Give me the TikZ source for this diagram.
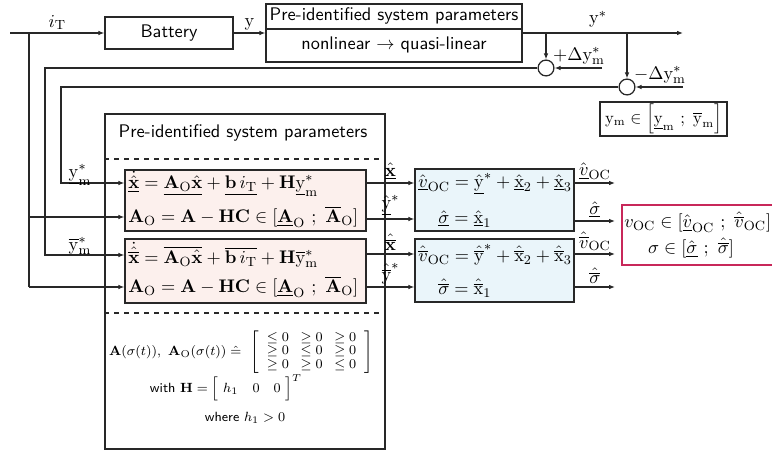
\documentclass[tikz,border=0pt,11pt]{standalone}
\usepackage{amsmath,amssymb}
\usetikzlibrary{arrows.meta,calc}
\definecolor{pinkfill}{RGB}{252,240,237}
\definecolor{bluefill}{RGB}{234,245,250}
\definecolor{redline}{RGB}{200,40,90}
\definecolor{linec}{RGB}{40,40,40}
\begin{document}
\begin{tikzpicture}[x=0.6pt,y=-0.6pt, line width=0.75pt, draw=linec,
  >={Latex[length=3.6pt,width=2.8pt]},
  box/.style={draw=linec, rectangle, inner sep=0pt},
  sumnode/.style={draw=linec, circle, minimum size=9.5pt, inner sep=0pt},
  eqn/.style={anchor=west, inner sep=1pt},
  lbl/.style={inner sep=1.5pt},
  smalltxt/.style={font=\fontsize{8}{9.5}\selectfont}]
\useasboundingbox (0,0) rectangle (772,451);

% ---------- top row ----------
\node[box, minimum width=76.8pt, minimum height=19.2pt, font=\sffamily] (bat) at (169,33) {Battery};
\node[box, minimum width=153.6pt, minimum height=34.8pt] (pisp) at (394,33) {};
\coordinate (pd) at (0,29);
\draw (pisp.west |- pd) -- (pisp.east |- pd);
\node[font=\sffamily] (pt1) at (394,16) {Pre-identified system parameters};
\node[font=\sffamily] (pt2) at (394,45) {nonlinear $\rightarrow$ quasi-linear};

\coordinate (in) at (10,33);
\draw[->] (in) -- node[above, lbl]{$i_\mathrm{T}$} (bat.west);
\draw[->] (bat.east) -- node[above, lbl]{$\mathrm{y}$} (pisp.west |- bat.east);
\coordinate (yend) at (683,33);
\draw[->] (pisp.east |- yend) -- (yend);
\node[lbl] (ystar) at (598,19) {$\mathrm{y}^*$};

% ---------- summation points ----------
\coordinate (j1) at (546,33);
\coordinate (j2) at (627,33);
\node[sumnode] (c1) at (546,68) {};
\node[sumnode] (c2) at (627,87) {};
\draw[->] (j1) -- (c1.north);
\draw[->] (j2) -- (c2.north);
\coordinate (d1) at (602,68);
\coordinate (d2) at (683,87);
\draw[->] (d1) -- (c1.east);
\draw[->] (d2) -- (c2.east);
\node[lbl] (dp) at (579,56) {$+\Delta\mathrm{y}^*_\mathrm{m}$};
\node[lbl] (dm) at (660,75) {$-\Delta\mathrm{y}^*_\mathrm{m}$};

\node[box, minimum width=76.2pt, minimum height=20.4pt, font=\fontsize{10}{12}\selectfont] (ymb) at (663.5,119)
  {$\mathrm{y}_\mathrm{m}\in\Big[\underline{\mathrm{y}}_\mathrm{m}\ ;\ \overline{\mathrm{y}}_\mathrm{m}\Big]$};

% ---------- big block ----------
\node[box, minimum width=168pt, minimum height=201pt] (big) at (245,281.5) {};
\node[font=\sffamily] (bigt) at (243,133) {Pre-identified system parameters};
\coordinate (ds1) at (0,159);
\coordinate (ds2) at (0,313);
\draw[dashed] (big.west |- ds1) -- (big.east |- ds1);
\draw[dashed] (big.west |- ds2) -- (big.east |- ds2);

\node[box, fill=pinkfill, minimum width=144.6pt, minimum height=36.6pt] (p1) at (245.5,200.5) {};
\node[box, fill=pinkfill, minimum width=144.6pt, minimum height=38.4pt] (p2) at (245.5,271) {};

\node[eqn] (e11) at (126,184) {$\dot{\underline{\hat{\mathbf x}}} = \underline{\mathbf{A}_\mathrm{O}\hat{\mathbf x}} + \underline{\mathbf{b}\, i_\mathrm{T}} + \mathbf{H}\underline{\mathrm{y}}^*_\mathrm{m}$};
\node[eqn] (e12) at (126,217) {$\mathbf{A}_\mathrm{O} = \mathbf{A} - \mathbf{HC} \in [\underline{\mathbf{A}}_\mathrm{O}\ ;\ \overline{\mathbf{A}}_\mathrm{O}]$};
\node[eqn] (e21) at (126,255) {$\dot{\hat{\overline{\mathbf x}}} = \overline{\mathbf{A}_\mathrm{O}\hat{\mathbf x}} + \overline{\mathbf{b}\, i_\mathrm{T}} + \mathbf{H}\overline{\mathrm{y}}^*_\mathrm{m}$};
\node[eqn] (e22) at (126,287) {$\mathbf{A}_\mathrm{O} = \mathbf{A} - \mathbf{HC} \in [\underline{\mathbf{A}}_\mathrm{O}\ ;\ \overline{\mathbf{A}}_\mathrm{O}]$};

\node[font=\fontsize{8.5}{10}\selectfont] (mat) at (241,352) {$\mathbf{A}(\sigma(t)),\ \mathbf{A}_\mathrm{O}(\sigma(t)) \mathrel{\hat{=}}\ 
  \renewcommand{\arraystretch}{0.8}\setlength{\arraycolsep}{3.5pt}\left[\,\begin{array}{ccc}\le 0 & \ge 0 & \ge 0\\ \ge 0 & \le 0 & \ge 0\\ \ge 0 & \ge 0 & \le 0\end{array}\,\right]$};
\node[smalltxt] (withH) at (226,388) {\sffamily with $\mathbf{H}=\Big[\ h_1\ \ \ 0\ \ \ 0\ \Big]^T$};
\node[smalltxt] (where) at (245,418) {\sffamily where $h_1>0$};

% ---------- inputs on the left ----------
\coordinate (ya) at (61,183);
\coordinate (yb) at (45,255);
\draw[->] (c2.west) -| (ya) -- (p1.west |- ya);
\draw[->] (c1.west) -| (yb) -- (p2.west |- yb);
\node[lbl] (lya) at (80,175) {$\underline{\mathrm{y}}^*_\mathrm{m}$};
\node[lbl] (lyb) at (80,246) {$\overline{\mathrm{y}}^*_\mathrm{m}$};
\coordinate (ji) at (29,33);
\coordinate (ia) at (29,217);
\coordinate (ib) at (29,287);
\draw (ji) -- (ib);
\draw[->] (ia) -- (p1.west |- ia);
\draw[->] (ib) -- (p2.west |- ib);

% ---------- blue blocks ----------
\node[box, fill=bluefill, minimum width=95.4pt, minimum height=37.2pt] (b1) at (494.5,200) {};
\node[box, fill=bluefill, minimum width=95.4pt, minimum height=37.8pt] (b2) at (494.5,270.5) {};
\node[eqn] (f11) at (416,184) {$\hat{\underline{v}}_\mathrm{OC} = \underline{\hat{\mathrm y}}^* + \underline{\hat{\mathrm x}}_2 + \underline{\hat{\mathrm x}}_3$};
\node[eqn] (f12) at (436,219) {$\underline{\hat\sigma} = \underline{\hat{\mathrm x}}_1$};
\node[eqn] (f21) at (416,255) {$\hat{\overline{v}}_\mathrm{OC} = \hat{\overline{\mathrm y}}^* + \hat{\overline{\mathrm x}}_2 + \hat{\overline{\mathrm x}}_3$};
\node[eqn] (f22) at (436,288) {$\hat{\overline{\sigma}} = \hat{\overline{\mathrm x}}_1$};

\coordinate (q1) at (0,183);
\coordinate (q2) at (0,219);
\coordinate (q3) at (0,254);
\coordinate (q4) at (0,287);
\draw[->] (p1.east |- q1) -- node[above, lbl]{$\underline{\hat{\mathbf x}}$} (b1.west |- q1);
\draw[->] (p1.east |- q2) -- node[above, lbl]{$\underline{\hat{\mathrm y}}^*$} (b1.west |- q2);
\draw[->] (p2.east |- q3) -- node[above, lbl]{$\hat{\overline{\mathbf x}}$} (b2.west |- q3);
\draw[->] (p2.east |- q4) -- node[above, lbl]{$\hat{\overline{\mathrm y}}^*$} (b2.west |- q4);

\coordinate (o1) at (615,183);
\coordinate (o2) at (615,221);
\coordinate (o3) at (615,254);
\coordinate (o4) at (615,287);
\draw[->] (b1.east |- o1) -- node[above, lbl]{$\hat{\underline{v}}_\mathrm{OC}$} (o1);
\draw[->] (b1.east |- o2) -- node[above, lbl]{$\underline{\hat\sigma}$} (o2);
\draw[->] (b2.east |- o3) -- node[above, lbl]{$\hat{\overline{v}}_\mathrm{OC}$} (o3);
\draw[->] (b2.east |- o4) -- node[above, lbl]{$\hat{\overline{\sigma}}$} (o4);

% ---------- result box ----------
\node[draw=redline, line width=1pt, rectangle, inner sep=0pt, minimum width=91.2pt, minimum height=36pt] (res) at (698,235) {};
\node[eqn] (r1) at (622,222) {$v_\mathrm{OC}\in[\hat{\underline{v}}_\mathrm{OC}\ ;\ \hat{\overline{v}}_\mathrm{OC}]$};
\node (r2) at (691,248) {$\sigma\in[\underline{\hat\sigma}\ ;\ \hat{\overline{\sigma}}]$};
\end{tikzpicture}
\end{document}
